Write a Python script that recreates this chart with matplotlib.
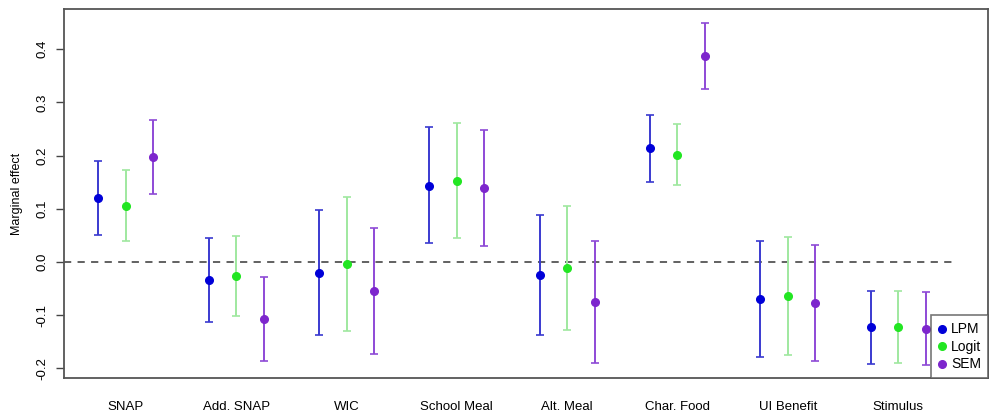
import numpy as np
import matplotlib
matplotlib.use("Agg")
import matplotlib.pyplot as plt

plt.rcParams['font.family'] = ['Liberation Sans', 'DejaVu Sans']

# programas (categorias)
programs = ["SNAP", "Add. SNAP", "WIC", "School Meal", "Alt. Meal",
            "Char. Food", "UI Benefit", "Stimulus"]

# efeitos marginais
lpm_est = [0.120, -0.034, -0.021, 0.143, -0.025, 0.214, -0.070, -0.122]
lpm_low = [0.051, -0.112, -0.138, 0.036, -0.138, 0.151, -0.179, -0.191]
lpm_up = [0.190, 0.045, 0.098, 0.254, 0.088, 0.276, 0.039, -0.054]

logit_est = [0.105, -0.027, -0.004, 0.153, -0.011, 0.202, -0.064, -0.123]
logit_low = [0.040, -0.102, -0.130, 0.045, -0.128, 0.144, -0.175, -0.189]
logit_up = [0.172, 0.049, 0.123, 0.262, 0.106, 0.259, 0.047, -0.055]

sem_est = [0.197, -0.107, -0.055, 0.139, -0.076, 0.388, -0.077, -0.125]
sem_low = [0.128, -0.186, -0.172, 0.031, -0.189, 0.326, -0.186, -0.193]
sem_up = [0.267, -0.029, 0.064, 0.248, 0.039, 0.449, 0.032, -0.056]

models = ["LPM", "Logit", "SEM"]
colors = ["#0000d8", "#22e622", "#7d26cd"]
bar_colors = ["#3a3ad0", "#9fe89f", "#8e4ad6"]

fig = plt.figure(figsize=(9.93, 4.13), dpi=100)
ax = fig.add_axes([0.0648, 0.084, 0.9305, 0.8935])

series = [(lpm_est, lpm_low, lpm_up),
          (logit_est, logit_low, logit_up),
          (sem_est, sem_low, sem_up)]

base = np.arange(len(programs)) * 4
for j, (est, low, up) in enumerate(series):
    est = np.array(est)
    yerr = np.vstack([est - np.array(low), np.array(up) - est])
    x = base + j
    ax.errorbar(x, est, yerr=yerr, fmt="none", ecolor=bar_colors[j],
                elinewidth=1.4, capsize=3, capthick=1.2, zorder=2)
    ax.plot(x, est, "o", color=colors[j], markersize=5.5, label=models[j],
            zorder=3)

# linha de referencia em zero
ax.hlines(0, -1.25, 31.0, colors="#555555", linestyles=(0, (4, 3.5)),
          linewidth=1.3, zorder=1)

ax.set_xlim(-1.23, 32.27)
ax.set_ylim(-0.2186, 0.475)

ax.set_xticks(base + 1)
ax.set_xticklabels(programs, fontsize=9.5)
ax.tick_params(axis="x", length=0, pad=16)

ax.set_yticks([-0.2, -0.1, 0.0, 0.1, 0.2, 0.3, 0.4])
ax.set_yticklabels(["-0.2", "-0.1", "0.0", "0.1", "0.2", "0.3", "0.4"],
                   rotation=90, va="center", fontsize=9.5)
ax.tick_params(axis="y", length=5.5, width=1, color="#444444", pad=6)
ax.set_ylabel("Marginal effect", fontsize=9)
ax.yaxis.set_label_coords(-0.0446, 0.5)

for sp in ax.spines.values():
    sp.set_color("#555555")
    sp.set_linewidth(1.3)

leg = ax.legend(loc="lower right", fontsize=10, frameon=True, fancybox=False,
                handletextpad=0.35, handlelength=0.6, borderpad=0.5,
                labelspacing=0.25, borderaxespad=0)
leg.get_frame().set_edgecolor("#555555")
leg.get_frame().set_linewidth(1.2)

fig.savefig("out.png", dpi=100)
